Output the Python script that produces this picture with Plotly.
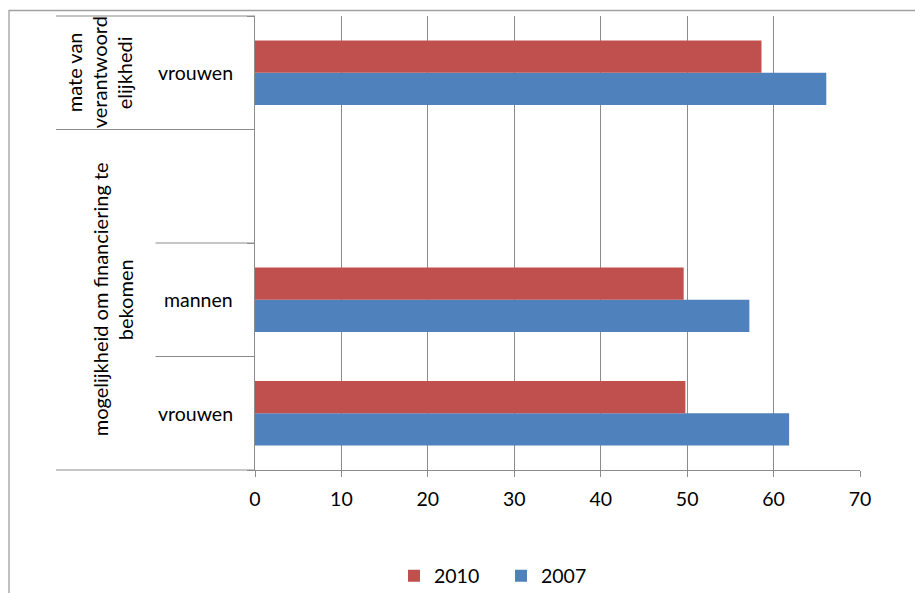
import plotly.graph_objects as go

# ---- data (Excel order: first category at the bottom) ----
groups = [
    "mogelijkheid om financiering te<br>bekomen",
    "mogelijkheid om financiering te<br>bekomen",
    "mogelijkheid om financiering te<br>bekomen",
    "mate van<br>verantwoord<br>elijkhedi",
]
subcats = ["vrouwen", "mannen", "", "vrouwen"]
cat_keys = ["fin_vrouwen", "fin_mannen", "fin_leeg", "ver_vrouwen"]
vals_2010 = [49.8, 49.6, None, 58.6]
vals_2007 = [61.8, 57.2, None, 66.1]
x_ticks = [0, 10, 20, 30, 40, 50, 60, 70]

RED = "#C0504D"
BLUE = "#4F81BD"
GRID = "#8C8C8C"
FONT = "Lato"
FS = 19.5

fig = go.Figure()
fig.add_trace(go.Bar(name="2007", y=cat_keys, x=vals_2007, orientation="h",
                     marker=dict(color=BLUE, line=dict(width=0))))
fig.add_trace(go.Bar(name="2010", y=cat_keys, x=vals_2010, orientation="h",
                     marker=dict(color=RED, line=dict(width=0))))

W, H = 915, 593
ml, mr, mt, mb = 255, 55, 16, 123
pw = W - ml - mr
ph = H - mt - mb

def px_to_paper_x(px):
    return (px - ml) / pw

def px_to_paper_y(py):
    return (H - mb - py) / ph

annotations = []
# sub-category labels (right aligned next to axis)
for i, lab in enumerate(subcats):
    if lab:
        annotations.append(dict(text=lab, xref="paper", yref="y", x=0, y=i,
                                xanchor="right", yanchor="middle", xshift=-20,
                                showarrow=False, font=dict(family=FONT, size=FS, color="#000")))

# group labels (rotated), centred on the span of their categories
runs = []
start = 0
for i in range(1, len(groups) + 1):
    if i == len(groups) or groups[i] != groups[start]:
        runs.append((groups[start], start, i - 1))
        start = i
group_xcentre = {groups[0]: 112, groups[-1]: 98.5}
LINE_GAP = 25
for g, a, b in runs:
    lines = g.split("<br>")
    nl = len(lines)
    for j, ln in enumerate(lines):
        xc = group_xcentre[g] + (j - (nl - 1) / 2) * LINE_GAP
        annotations.append(dict(text=ln, xref="paper", yref="y", x=0, y=(a + b) / 2,
                                xanchor="center", yanchor="middle",
                                xshift=xc - ml, textangle=-90,
                                showarrow=False, font=dict(family=FONT, size=20, color="#000")))

shapes = []
n = len(cat_keys)
# divider lines for the category table
for k in range(n + 1):
    yd = k / n
    is_group_boundary = (k == 0 or k == n or groups[k] != groups[k - 1])
    x0 = px_to_paper_x(56) if is_group_boundary else px_to_paper_x(155.5)
    shapes.append(dict(type="line", xref="paper", yref="y domain", x0=x0, x1=0,
                       y0=yd, y1=yd, line=dict(color=GRID, width=1)))
# outer chart border
shapes.append(dict(type="rect", xref="paper", yref="paper",
                   x0=px_to_paper_x(9), x1=px_to_paper_x(W + 20),
                   y0=px_to_paper_y(H + 20), y1=px_to_paper_y(10.5),
                   line=dict(color="#A0A0A0", width=1.3), fillcolor="rgba(0,0,0,0)", layer="below"))

fig.update_layout(
    width=W, height=H,
    margin=dict(l=ml, r=mr, t=mt, b=mb, pad=0, autoexpand=False),
    paper_bgcolor="white", plot_bgcolor="white",
    barmode="group", bargap=0.43, bargroupgap=0,
    font=dict(family=FONT, size=FS, color="#000"),
    showlegend=True,
    legend=dict(orientation="h", traceorder="reversed", x=px_to_paper_x(501), xanchor="center",
                y=px_to_paper_y(576), yanchor="middle", entrywidth=62,
                font=dict(family=FONT, size=FS, color="#000")),
    annotations=annotations,
    shapes=shapes,
    hovermode=False,
)
fig.update_xaxes(range=[0, 70], tickvals=x_ticks, showgrid=True, gridcolor=GRID, gridwidth=1,
                 zeroline=False, showline=True, linecolor=GRID, linewidth=1,
                 ticks="outside", ticklen=6, tickcolor=GRID, tickwidth=1,
                 ticklabelstandoff=6, automargin=False,
                 tickfont=dict(family=FONT, size=FS, color="#000"))
fig.update_yaxes(type="category", categoryorder="array", categoryarray=cat_keys,
                 range=[-0.5, n - 0.5], showticklabels=False, showgrid=False, zeroline=False,
                 showline=True, linecolor=GRID, linewidth=1, automargin=False,
                 ticks="outside", tickson="boundaries", ticklen=7, tickcolor=GRID, tickwidth=1)

fig.write_html("out.html", config={"displayModeBar": False, "staticPlot": True},
               post_script="document.body.style.margin='0';document.body.style.overflow='hidden';")
